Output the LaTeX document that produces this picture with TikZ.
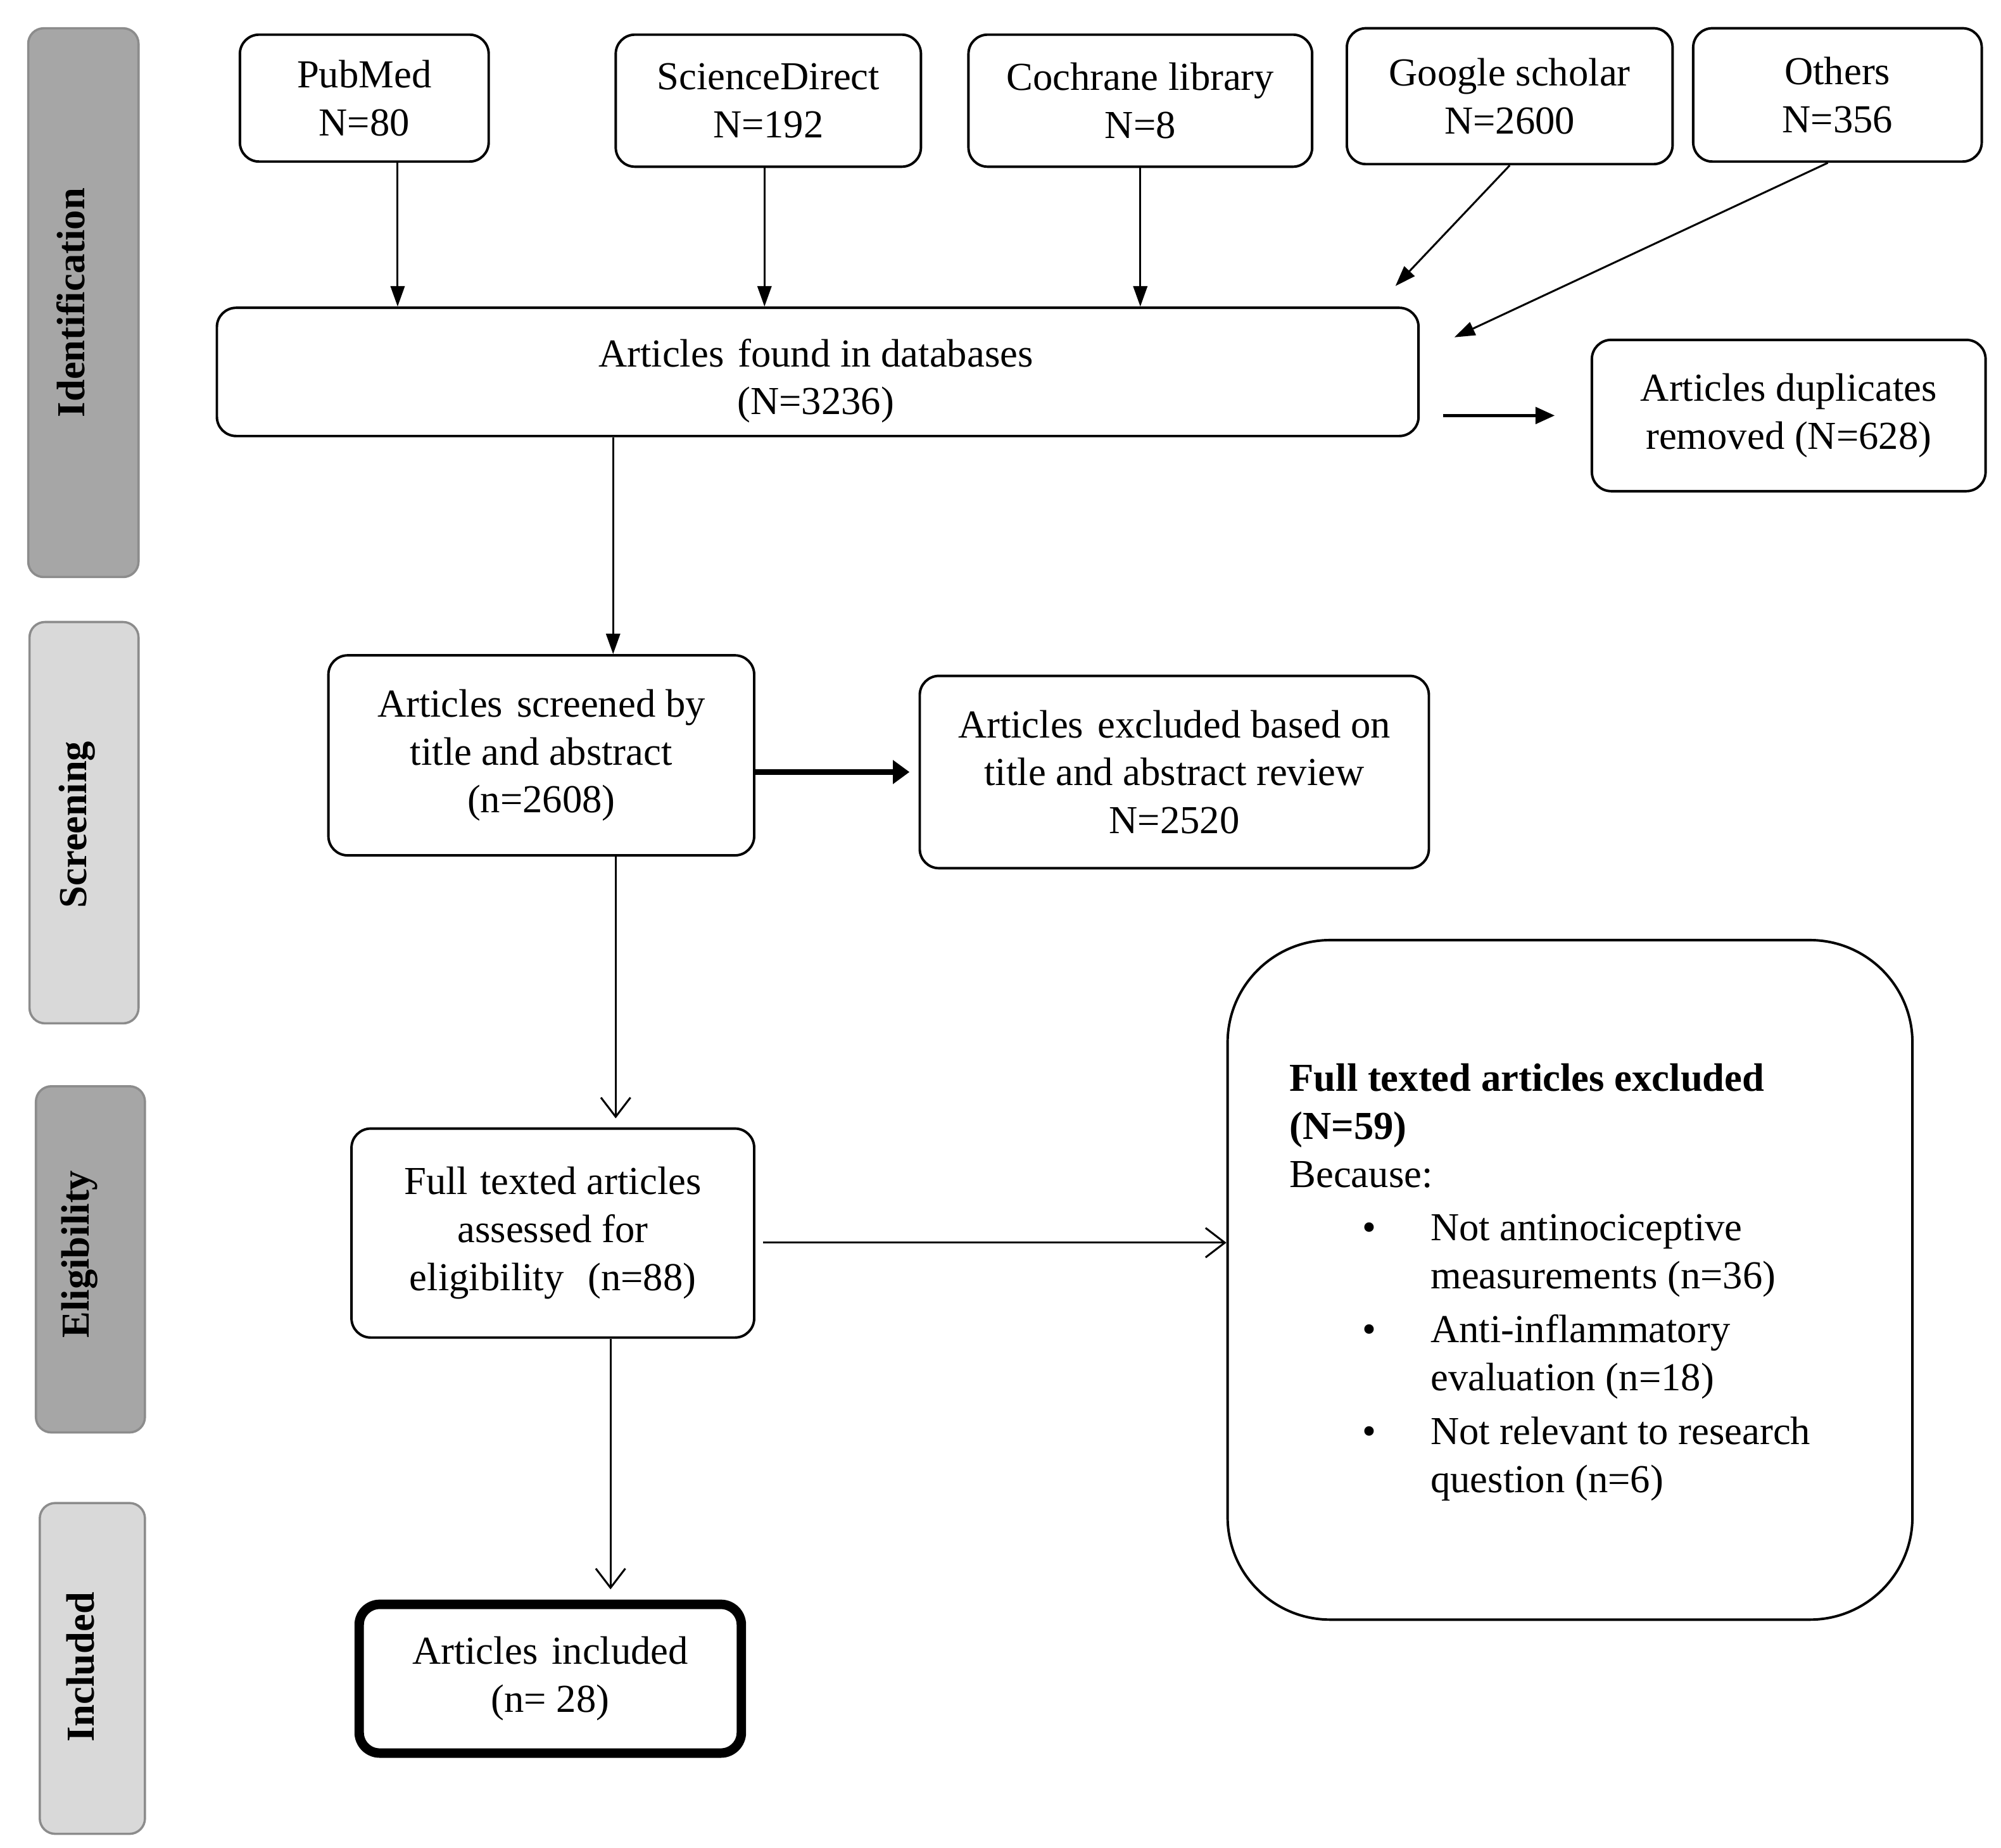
\documentclass[tikz,border=0pt]{standalone}
\usepackage{fontspec}
\setmainfont{Liberation Serif}
\usetikzlibrary{arrows.meta,calc}
\definecolor{phdark}{HTML}{A6A6A6}
\definecolor{phlight}{HTML}{D9D9D9}
\definecolor{phborder}{HTML}{8C8C8C}
\begin{document}
\begin{tikzpicture}[x=0.02cm,y=-0.02cm,
  every node/.style={font=\fontsize{17.6pt}{21.3pt}\selectfont, inner sep=0pt, align=center},
  box/.style={draw=black, line width=1.1pt, rounded corners=0.3cm, fill=white},
  phase/.style={draw=phborder, line width=1pt, rounded corners=0.24cm},
  phasetxt/.style={rotate=90, font=\fontsize{17.6pt}{21.3pt}\selectfont\bfseries},
  tri/.style={line width=0.85pt, -{Triangle[length=0.32cm,width=0.22cm]}},
  thicktri/.style={line width=2.4pt, -{Triangle[length=0.26cm,width=0.36cm]}},
  medtri/.style={line width=1.3pt, -{Triangle[length=0.3cm,width=0.26cm]}},
  barb/.style={line width=0.85pt, -{Straight Barb[length=0.3cm,width=0.46cm,line width=0.85pt]}}
]
\useasboundingbox (0,0) rectangle (1560,1441);

% phase boxes
\node[phase, fill=phdark, minimum width=1.72cm, minimum height=8.56cm] (pid) at (65,236) {};
\node[phasetxt] (pidt) at (55,236) {Identification};
\node[phase, fill=phlight, minimum width=1.7cm, minimum height=6.26cm] (psc) at (65.5,641.5) {};
\node[phasetxt] (psct) at (60,643) {Screening};
\node[phase, fill=phdark, minimum width=1.7cm, minimum height=5.4cm] (pel) at (70.5,982) {};
\node[phasetxt] (pelt) at (62,978) {Eligibility};
\node[phase, fill=phlight, minimum width=1.64cm, minimum height=5.16cm] (pin) at (72,1301) {};
\node[phasetxt] (pint) at (63,1300) {Included};

% sources
\node[box, minimum width=3.88cm, minimum height=1.98cm] (pub) at (284,76.5) {PubMed\\N=80};
\node[box, minimum width=4.76cm, minimum height=2.06cm] (sd) at (599,78.5) {ScienceDirect\\N=192};
\node[box, minimum width=5.36cm, minimum height=2.06cm] (coch) at (889,78.5) {Cochrane library\\N=8};
\node[box, minimum width=5.08cm, minimum height=2.12cm] (goo) at (1177,75) {Google scholar\\N=2600};
\node[box, minimum width=4.5cm, minimum height=2.08cm] (oth) at (1432.5,74) {Others\\N=356};

% found
\node[box, minimum width=18.74cm, minimum height=2.0cm] (found) at (637.5,290) {};
\node (foundt) at (636,297) {Articles\hspace{0.35em}found in databases\\(N=3236)};
\node[box, minimum width=6.14cm, minimum height=2.36cm] (dup) at (1394.5,324) {Articles duplicates\\removed (N=628)};

% screening
\node[box, minimum width=6.64cm, minimum height=3.12cm] (scr) at (422,589) {Articles\hspace{0.35em}screened by\\title and abstract\\(n=2608)};
\node[box, minimum width=7.94cm, minimum height=3.0cm] (exc) at (915.5,602) {Articles\hspace{0.35em}excluded based on\\title and abstract review\\N=2520};

% eligibility
\node[box, minimum width=6.28cm, minimum height=3.26cm] (full) at (431,961.5) {Full\hspace{0.3em}texted articles\\assessed for\\eligibility\hspace{0.6em}(n=88)};
\node[box, rounded corners=1.6cm, minimum width=10.68cm, minimum height=10.6cm] (big) at (1224,998) {};
\node[anchor=north west, align=left] (bigt) at (1005,829) {%
\textbf{Full texted articles excluded}\\
\textbf{(N=59)}\\
Because:\\[0.09cm]
\hspace*{1.14cm}\makebox[1.06cm][l]{\textbullet}Not antinociceptive\\
\hspace*{2.2cm}measurements (n=36)\\[0.09cm]
\hspace*{1.14cm}\makebox[1.06cm][l]{\textbullet}Anti-inflammatory\\
\hspace*{2.2cm}evaluation (n=18)\\[0.09cm]
\hspace*{1.14cm}\makebox[1.06cm][l]{\textbullet}Not relevant to research\\
\hspace*{2.2cm}question (n=6)};

% included
\node[box, line width=4.2pt, rounded corners=0.32cm, minimum width=5.96cm, minimum height=2.32cm] (inc) at (429,1309) {Articles\hspace{0.35em}included\\(n= 28)};

% connectors
\coordinate (c1) at ([xshift=0.52cm]pub.south);
\draw[tri] (c1) -- (c1 |- found.north);
\coordinate (c2) at ([xshift=-0.06cm]sd.south);
\draw[tri] (c2) -- (c2 |- found.north);
\draw[tri] (coch.south) -- (coch.south |- found.north);
\coordinate (gend) at ([xshift=-0.38cm,yshift=0.32cm]found.north east);
\draw[tri] (goo.south) -- (gend);
\coordinate (ostart) at ([xshift=-0.15cm]oth.south);
\coordinate (oend) at ([xshift=0.54cm,yshift=0.54cm]found.east);
\draw[tri] (ostart) -- (oend);
\coordinate (d0) at (found.east |- dup.west);
\draw[medtri] ([xshift=0.36cm]d0) -- ([xshift=-0.56cm]dup.west);
\coordinate (f1) at ([xshift=1.12cm]scr.north);
\draw[tri] (f1 |- found.south) -- (f1);
\coordinate (e0) at (scr.east |- exc.west);
\draw[thicktri] (e0) -- ([xshift=-0.14cm]exc.west);
\coordinate (s1) at ([xshift=0.98cm]full.north);
\draw[barb] (s1 |- scr.south) -- ([yshift=0.14cm]s1);
\coordinate (b0) at ([yshift=-0.15cm]full.east);
\draw[barb] ([xshift=0.12cm]b0) -- (b0 -| big.west);
\coordinate (i1) at ([xshift=0.94cm]inc.north);
\draw[barb] (i1 |- full.south) -- ([yshift=0.16cm]i1);
\end{tikzpicture}
\end{document}
